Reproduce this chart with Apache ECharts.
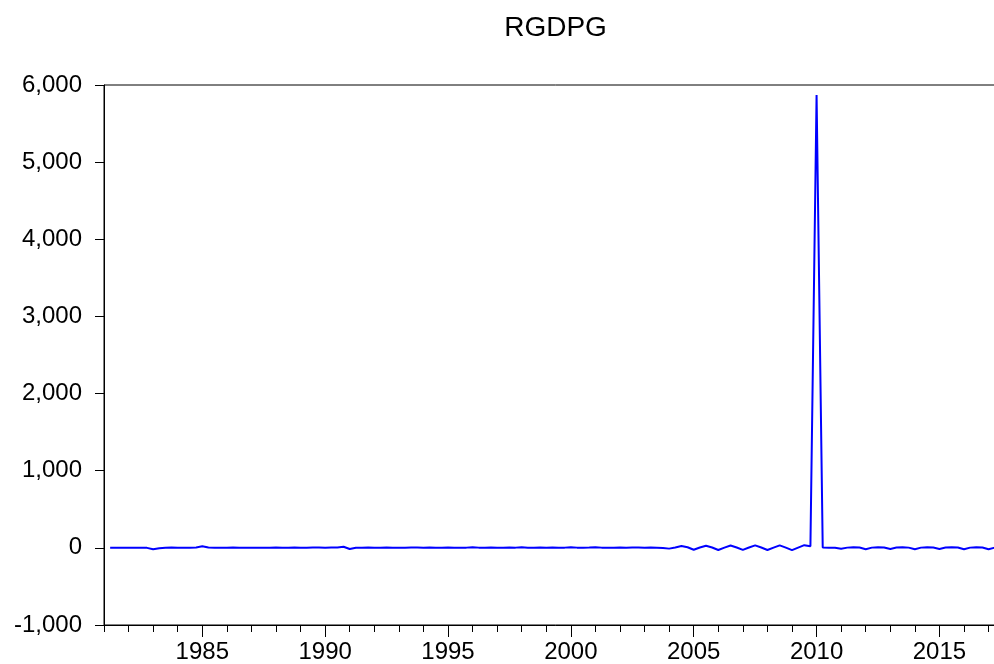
<!DOCTYPE html>
<html>
<head>
<meta charset="utf-8">
<script src="https://cdn.jsdelivr.net/npm/echarts@6/dist/echarts.min.js"></script>
<style>
  html, body { margin: 0; padding: 0; background: #fff; overflow: hidden; }
  /* plot frame runs a little past the right edge of the window, as in the original */
  #chart { width: 1007px; height: 664px; }
</style>
</head>
<body>
<div id="chart"></div>
<script>
// quarterly series, first value is 1981Q2
const startYear = 1981
const startQuarter = 2
const rgdpg = [
  3, 2, 1,              // 1981
  2, 1, 3, 0,           // 1982
  -18, -5, 2, 4,        // 1983
  0, 2, 3, 6,           // 1984
  20, 4, 2, 3,          // 1985
  2, 4, 1, 2,           // 1986
  1, 2, 3, 2,           // 1987
  5, 2, 3, 4,           // 1988
  2, 3, 4, 5,           // 1989
  3, 5, 6, 15,          // 1990
  -15, 2, 3, 4,         // 1991
  2, 3, 4, 3,           // 1992
  2, 3, 5, 4,           // 1993
  3, 4, 2, 3,           // 1994
  4, 3, 2, 3,           // 1995
  7, 3, 2, 4,           // 1996
  3, 2, 4, 3,           // 1997
  7, 2, 3, 4,           // 1998
  3, 4, 2, 3,           // 1999
  8, 3, 2, 4,           // 2000
  7, 3, 2, 3,           // 2001
  4, 3, 5, 6,           // 2002
  3, 5, 2, -3,          // 2003
  -10, 5, 25, 8,        // 2004
  -25, 5, 28, 5,        // 2005
  -28, 3, 30, 5,        // 2006
  -27, 4, 32, 4,        // 2007
  -28, 3, 33, 3,        // 2008
  -30, 3, 35, 20,       // 2009
  5870, 5, 3, 2,        // 2010
  -12, 3, 8, 4,         // 2011
  -18, 3, 8, 4,         // 2012
  -15, 4, 8, 3,         // 2013
  -18, 3, 8, 4,         // 2014
  -15, 4, 8, 5,         // 2015
  -18, 3, 8, 4,         // 2016
  -18, 3                // 2017
]
const yTicks = [-1000, 0, 1000, 2000, 3000, 4000, 5000, 6000]
const yearLabels = [1985, 1990, 1995, 2000, 2005, 2010, 2015]

const points = rgdpg.map((v, i) => [startYear + (startQuarter - 1 + i) / 4, v])

const fontFam = 'Liberation Sans, Arial, sans-serif'
let chart = echarts.init(document.getElementById('chart'), null, { renderer: 'canvas' })
chart.setOption({
  animation: false,
  backgroundColor: '#fff',
  graphic: [{
    type: 'text',
    x: 555.5,
    y: 14,
    style: {
      text: 'RGDPG',
      fill: '#000',
      font: '28px ' + fontFam,
      textAlign: 'center',
      textVerticalAlign: 'top'
    }
  }],
  grid: {
    left: 104, top: 85, right: 0, bottom: 38,
    show: true, borderColor: '#000', borderWidth: 1
  },
  xAxis: [{
    type: 'value',
    position: 'bottom',
    min: 1981, max: 2017.75, interval: 1,
    axisLine: { onZero: false, lineStyle: { color: '#000', width: 1 } },
    axisTick: { length: 7, lineStyle: { color: '#000' } },
    axisLabel: { show: false },
    splitLine: { show: false }
  }, {
    // longer ticks + labels every five years
    type: 'value',
    position: 'bottom',
    offset: 0,
    min: 1981, max: 2017.75,
    axisLine: { show: false, onZero: false },
    axisTick: { length: 12, customValues: yearLabels, lineStyle: { color: '#000' } },
    axisLabel: {
      customValues: yearLabels,
      color: '#000', fontSize: 24, fontFamily: fontFam, margin: 15,
      formatter: v => String(v)
    },
    splitLine: { show: false }
  }],
  yAxis: {
    type: 'value',
    min: yTicks[0], max: yTicks[yTicks.length - 1], interval: 1000,
    axisLine: { show: true, lineStyle: { color: '#000', width: 1 } },
    axisTick: { show: true, length: 9, lineStyle: { color: '#000' } },
    axisLabel: {
      color: '#000', fontSize: 24, fontFamily: fontFam, margin: 22,
      formatter: v => v.toLocaleString('en-US')
    },
    splitLine: { show: false }
  },
  series: [{
    type: 'line',
    data: points,
    showSymbol: false,
    lineStyle: { color: '#0000ff', width: 2 }
  }]
})
</script>
</body>
</html>
